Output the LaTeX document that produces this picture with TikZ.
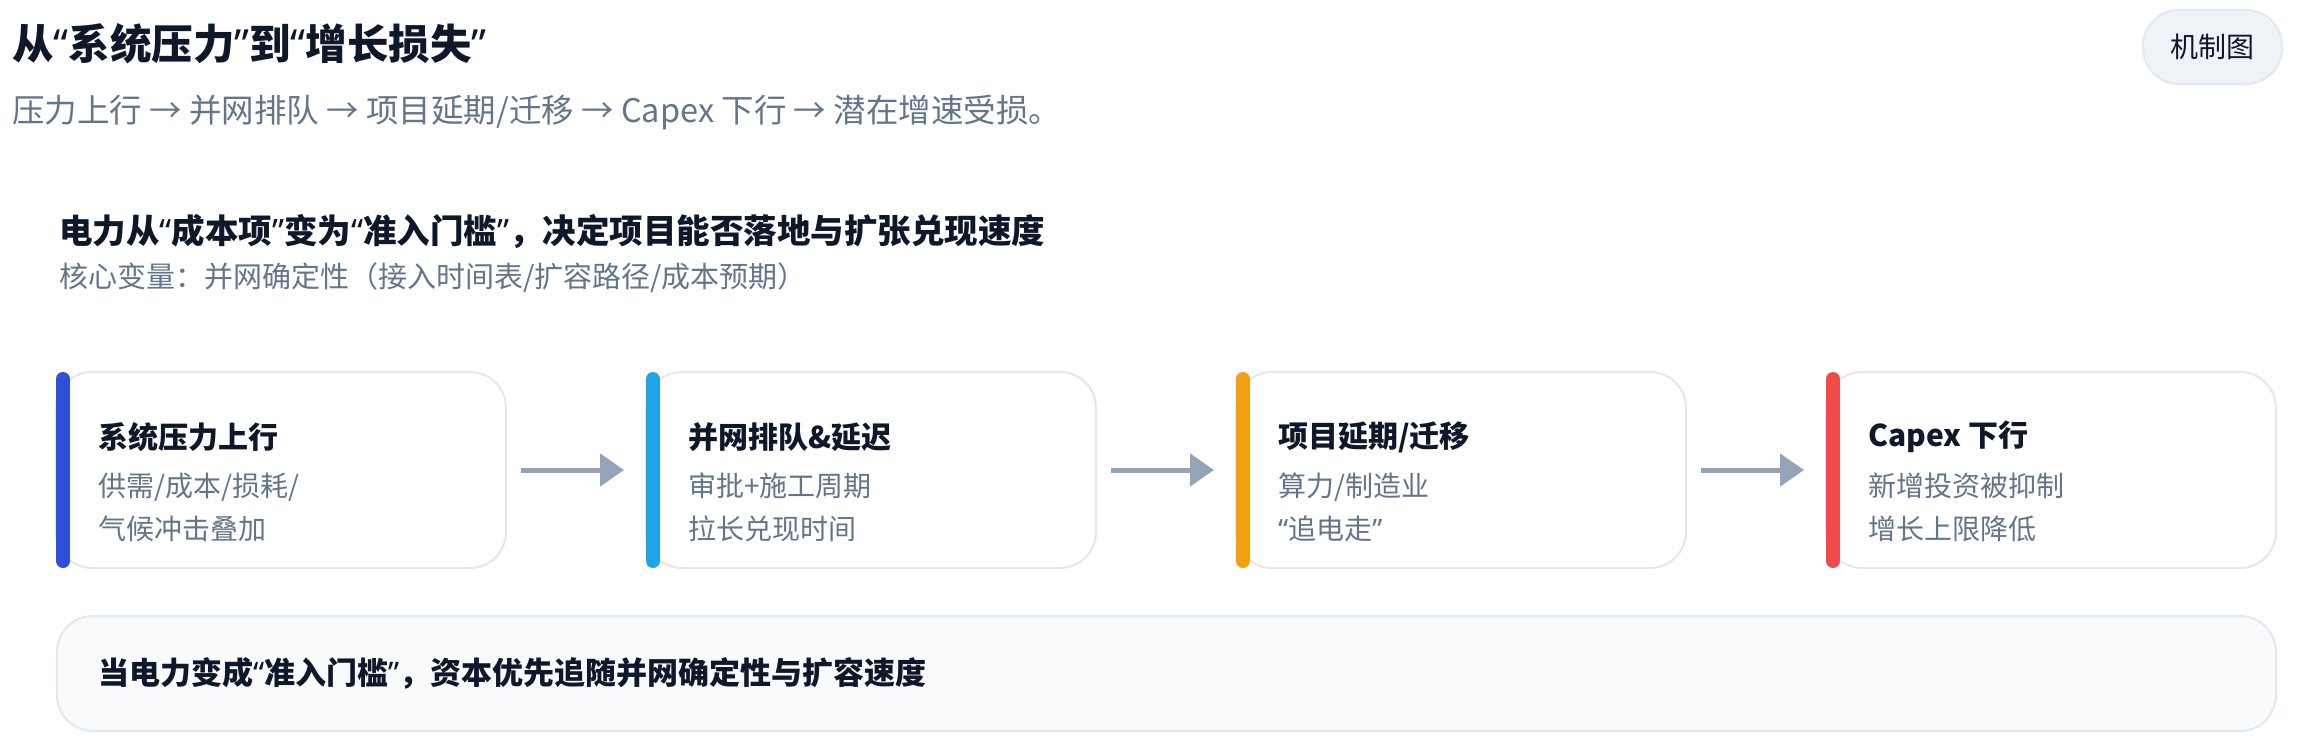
\documentclass[tikz,border=0pt]{standalone}
\usepackage{fontspec}
\setmainfont{Noto Sans CJK SC}
\newfontfamily\quotefont{Noto Sans}
\newcommand\qopen{{\quotefont “}}
\newcommand\qclose{{\quotefont ”}}
\usetikzlibrary{arrows.meta, positioning}
\definecolor{inkdark}{HTML}{0F172A}
\definecolor{inkmuted}{HTML}{64748B}
\definecolor{cardline}{HTML}{E5E7EB}
\definecolor{softfill}{HTML}{F8FAFC}
\definecolor{softline}{HTML}{E2E8F0}
\definecolor{pillfill}{HTML}{EFF3F8}
\definecolor{arrowgray}{HTML}{94A3B8}
\definecolor{accblue}{HTML}{2D4FD9}
\definecolor{accsky}{HTML}{1FA4E8}
\definecolor{accamber}{HTML}{F39F12}
\definecolor{accred}{HTML}{EF4B4B}

\begin{document}
\begin{tikzpicture}[x=1pt, y=-1pt,
      node distance=140pt,
      heading/.style={anchor=west, inner sep=0pt, text=inkdark,
                      font=\fontsize{#1}{#1}\selectfont\bfseries},
      muted/.style={anchor=west, inner sep=0pt, text=inkmuted,
                    font=\fontsize{#1}{#1}\selectfont},
      card/.style={rectangle, draw=cardline, fill=white, line width=2pt, outer sep=0pt,
                   rounded corners=36pt, minimum width=450pt, minimum height=196pt},
      cardtitle/.style={anchor=west, inner sep=0pt, text=inkdark,
                        font=\fontsize{30}{36}\selectfont\bfseries},
      carddesc/.style={anchor=west, inner sep=0pt, text=inkmuted, align=left,
                       font=\fontsize{28}{43}\selectfont},
      bar/.style={line width=14pt, line cap=round, draw=#1},
      pill/.style={rectangle, draw=softline, fill=pillfill, line width=2pt,
                   rounded corners=36pt, minimum width=139pt, minimum height=74pt,
                   text=inkdark, font=\fontsize{28}{28}\selectfont},
      note/.style={rectangle, draw=softline, fill=softfill, line width=2pt,
                   rounded corners=36pt, minimum width=2219pt, minimum height=115pt},
      arr/.style={-{Triangle[length=24pt, width=32pt]}, line width=5pt, arrowgray}
    ]
      \useasboundingbox (0,0) rectangle (2297,750);

      % Header
      \node[heading=41.5] (title) at (12,44) {从\qopen 系统压力\qclose 到\qopen 增长损失\qclose};
      \node[muted=32.5] (subtitle) at (12,113) {压力上行 → 并网排队 → 项目延期/迁移 → Capex 下行 → 潜在增速受损。};
      \node[pill] (tag) at (2212.5,47) {机制图};

      % Section heading
      \node[heading=33.5] (lead) at (59,231) {电力从\qopen 成本项\qclose 变为\qopen 准入门槛\qclose ，决定项目能否落地与扩张兑现速度};
      \node[muted=29] (leadsub) at (59,278) {核心变量：并网确定性（接入时间表/扩容路径/成本预期）};

      % Cards
      \node[card, anchor=north west] (c1) at (56,372) {};
      \node[card, right=of c1] (c2) {};
      \node[card, right=of c2] (c3) {};
      \node[card, right=of c3] (c4) {};

      % Accent bars
      \draw[bar=accblue] ([xshift=7pt, yshift=-7pt]c1.north west) -- ([xshift=7pt, yshift=7pt]c1.south west);
      \draw[bar=accsky] ([xshift=7pt, yshift=-7pt]c2.north west) -- ([xshift=7pt, yshift=7pt]c2.south west);
      \draw[bar=accamber] ([xshift=7pt, yshift=-7pt]c3.north west) -- ([xshift=7pt, yshift=7pt]c3.south west);
      \draw[bar=accred] ([xshift=7pt, yshift=-7pt]c4.north west) -- ([xshift=7pt, yshift=7pt]c4.south west);

      % Card texts
      \node[cardtitle] (t1) at ([xshift=42pt, yshift=-65pt]c1.north west) {系统压力上行};
      \node[carddesc] (d1) at ([xshift=42pt, yshift=-135.5pt]c1.north west) {供需/成本/损耗/\\气候冲击叠加};
      \node[cardtitle] (t2) at ([xshift=42pt, yshift=-65pt]c2.north west) {并网排队\&延迟};
      \node[carddesc] (d2) at ([xshift=42pt, yshift=-135.5pt]c2.north west) {审批+施工周期\\拉长兑现时间};
      \node[cardtitle] (t3) at ([xshift=42pt, yshift=-65pt]c3.north west) {项目延期/迁移};
      \node[carddesc] (d3) at ([xshift=42pt, yshift=-135.5pt]c3.north west) {算力/制造业\\\qopen 追电走\qclose};
      \node[cardtitle] (t4) at ([xshift=42pt, yshift=-65pt]c4.north west) {Capex 下行};
      \node[carddesc] (d4) at ([xshift=42pt, yshift=-135.5pt]c4.north west) {新增投资被抑制\\增长上限降低};

      % Arrows
      \draw[arr] ([xshift=15pt]c1.east) -- ([xshift=-22pt]c2.west);
      \draw[arr] ([xshift=15pt]c2.east) -- ([xshift=-22pt]c3.west);
      \draw[arr] ([xshift=15pt]c3.east) -- ([xshift=-22pt]c4.west);

      % Conclusion
      \node[note, anchor=north west] (takeaway) at (56,615) {};
      \node[cardtitle, font=\fontsize{31}{36}\selectfont\bfseries] (takeawaytext) at ([xshift=42pt]takeaway.west) {当电力变成\qopen 准入门槛\qclose ，资本优先追随并网确定性与扩容速度};

    \end{tikzpicture}
\end{document}
